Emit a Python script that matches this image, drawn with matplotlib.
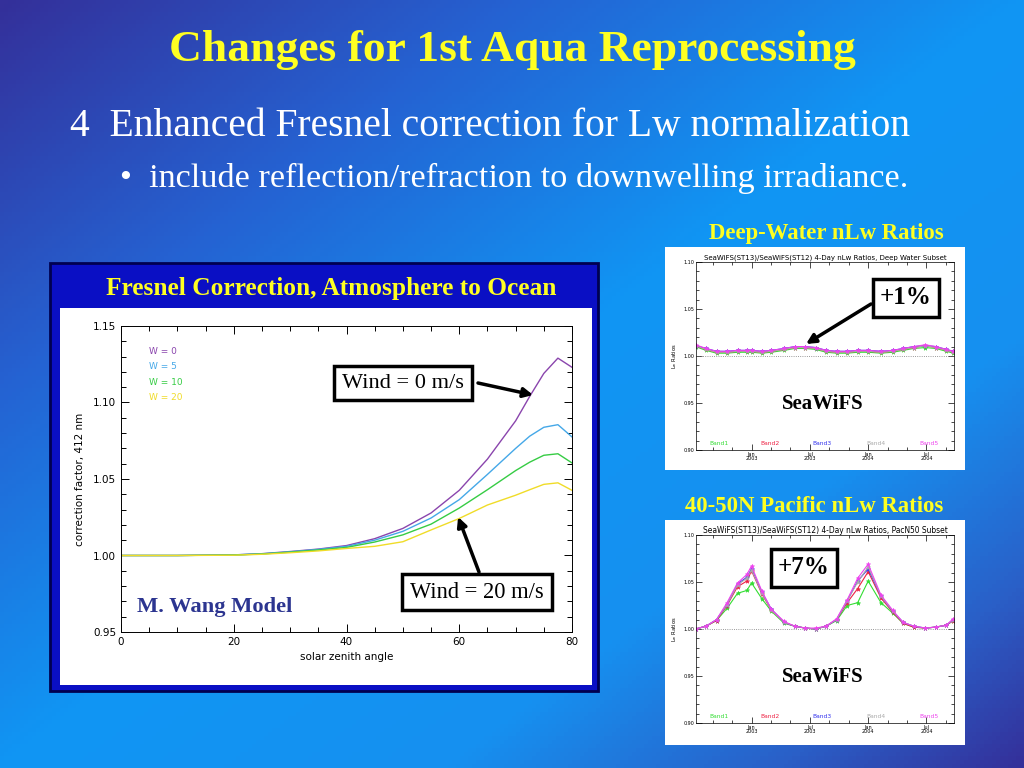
import matplotlib
matplotlib.use("Agg")
import matplotlib.pyplot as plt
import numpy as np
from matplotlib.colors import LinearSegmentedColormap
from matplotlib.patches import Rectangle
from matplotlib.ticker import MultipleLocator

# Fresnel correction factor (412 nm) vs solar zenith angle
zenith = [0, 10, 20, 25, 30, 35, 40, 45, 50, 55, 60, 65, 70, 72.5, 75, 77.5, 80]
w0 = [1.0000, 1.0000, 1.0004, 1.0012, 1.0026, 1.0042, 1.0065, 1.0110, 1.0177,
      1.0278, 1.0426, 1.0630, 1.0880, 1.1040, 1.1190, 1.1290, 1.1230]
w5 = [1.0000, 1.0000, 1.0004, 1.0011, 1.0024, 1.0040, 1.0060, 1.0100, 1.0158,
      1.0245, 1.0365, 1.0530, 1.0700, 1.0780, 1.0838, 1.0855, 1.0775]
w10 = [1.0000, 1.0000, 1.0003, 1.0010, 1.0022, 1.0036, 1.0053, 1.0088, 1.0135,
       1.0205, 1.0310, 1.0430, 1.0555, 1.0610, 1.0655, 1.0665, 1.0605]
w20 = [1.0000, 1.0000, 1.0002, 1.0008, 1.0018, 1.0030, 1.0046, 1.0060, 1.0090,
       1.0167, 1.0242, 1.0330, 1.0394, 1.0430, 1.0465, 1.0475, 1.0426]
wind_labels = ["W = 0", "W = 5", "W = 10", "W = 20"]
wind_colors = ["#8a45ad", "#45a8e8", "#36cc44", "#f0dc28"]

# SeaWiFS ST13/ST12 ratios (decimal year)
dates = [2002.52, 2002.61, 2002.70, 2002.79, 2002.88, 2002.96, 2003.00, 2003.09,
         2003.17, 2003.28, 2003.37, 2003.46, 2003.55, 2003.64, 2003.73, 2003.82,
         2003.91, 2004.00, 2004.11, 2004.21, 2004.30, 2004.39, 2004.49, 2004.58,
         2004.67, 2004.73]
band_names = ["Band1", "Band2", "Band3", "Band4", "Band5"]
band_colors = ["#33dd33", "#ee2244", "#3333ee", "#aaaaaa", "#ee44ee"]

deep_b1 = [1.010, 1.006, 1.003, 1.003, 1.004, 1.004, 1.004, 1.003, 1.004, 1.006, 1.008, 1.008, 1.007,
           1.004, 1.003, 1.003, 1.004, 1.004, 1.003, 1.004, 1.006, 1.008, 1.009, 1.008, 1.005, 1.003]
deep_b2 = [1.011, 1.007, 1.004, 1.004, 1.005, 1.005, 1.005, 1.004, 1.005, 1.007, 1.009, 1.009, 1.008,
           1.005, 1.004, 1.004, 1.005, 1.005, 1.004, 1.005, 1.007, 1.009, 1.011, 1.009, 1.006, 1.004]
deep_b3 = [1.011, 1.008, 1.005, 1.005, 1.006, 1.006, 1.006, 1.005, 1.006, 1.008, 1.010, 1.010, 1.009,
           1.006, 1.005, 1.005, 1.006, 1.006, 1.005, 1.006, 1.008, 1.010, 1.011, 1.010, 1.007, 1.005]
deep_b4 = [1.011, 1.007, 1.004, 1.004, 1.005, 1.005, 1.005, 1.004, 1.005, 1.007, 1.009, 1.009, 1.008,
           1.005, 1.004, 1.004, 1.005, 1.005, 1.004, 1.005, 1.007, 1.009, 1.011, 1.009, 1.006, 1.004]
deep_b5 = [1.012, 1.008, 1.005, 1.005, 1.006, 1.006, 1.006, 1.005, 1.006, 1.008, 1.010, 1.010, 1.009,
           1.006, 1.005, 1.005, 1.006, 1.006, 1.005, 1.006, 1.008, 1.010, 1.012, 1.010, 1.007, 1.005]

pac_b1 = [1.000, 1.003, 1.009, 1.022, 1.038, 1.041, 1.049, 1.032, 1.019, 1.006, 1.003, 1.001, 1.000,
          1.003, 1.009, 1.025, 1.028, 1.051, 1.028, 1.017, 1.006, 1.002, 1.001, 1.002, 1.004, 1.009]
pac_b2 = [1.000, 1.003, 1.009, 1.025, 1.045, 1.051, 1.062, 1.037, 1.020, 1.007, 1.003, 1.001, 1.000,
          1.003, 1.010, 1.028, 1.043, 1.061, 1.033, 1.018, 1.006, 1.002, 1.001, 1.002, 1.004, 1.009]
pac_b3 = [1.000, 1.003, 1.010, 1.026, 1.048, 1.055, 1.064, 1.039, 1.021, 1.007, 1.003, 1.001, 1.000,
          1.003, 1.010, 1.030, 1.051, 1.064, 1.035, 1.019, 1.007, 1.003, 1.001, 1.002, 1.004, 1.010]
pac_b4 = [1.000, 1.003, 1.010, 1.026, 1.047, 1.054, 1.063, 1.038, 1.020, 1.007, 1.003, 1.001, 1.000,
          1.003, 1.010, 1.030, 1.050, 1.066, 1.035, 1.019, 1.007, 1.003, 1.001, 1.002, 1.004, 1.010]
pac_b5 = [1.000, 1.003, 1.010, 1.028, 1.049, 1.058, 1.067, 1.040, 1.021, 1.008, 1.003, 1.001, 1.001,
          1.003, 1.011, 1.031, 1.054, 1.069, 1.036, 1.020, 1.007, 1.003, 1.001, 1.002, 1.004, 1.011]

date_ticks = [2003.0, 2003.5, 2004.0, 2004.5]
date_labels = ["Jan\n2003", "Jul\n2003", "Jan\n2004", "Jul\n2004"]

W, H = 1024, 768
fig = plt.figure(figsize=(W / 100, H / 100), dpi=100)
renderer = fig.canvas.get_renderer()
serif = "Liberation Serif"


def fx(px):
    return px / W


def fy(py):
    return 1 - py / H


def fit(t, width_px):
    # scale a text so that it spans the given width in pixels
    w = t.get_window_extent(renderer).width
    t.set_fontsize(t.get_fontsize() * width_px / w)
    return t


# slide background gradient
bg = fig.add_axes([0, 0, 1, 1], zorder=-10)
xx, yy = np.meshgrid(np.linspace(0, 1, 256), np.linspace(0, 1, 192))
cmap = LinearSegmentedColormap.from_list(
    "slide", [(0, "#34309a"), (0.25, "#2562d2"), (0.5, "#1096f4"),
              (0.72, "#1690f0"), (0.88, "#2a60c8"), (1, "#34309a")])
bg.imshow((xx + yy) / 2, cmap=cmap, aspect="auto", extent=[0, 1, 0, 1])
bg.axis("off")

# slide texts
fit(fig.text(0.5, fy(50), "Changes for 1st Aqua Reprocessing", ha="center", va="center",
             color="#ffff22", fontsize=30, fontweight="bold", family=serif), 685)
fit(fig.text(fx(70), fy(126), "4  Enhanced Fresnel correction for Lw normalization",
             ha="left", va="center", color="white", fontsize=24, family=serif), 842)
fit(fig.text(fx(120), fy(178), "\u2022  include reflection/refraction to downwelling irradiance.",
             ha="left", va="center", color="white", fontsize=20, family=serif), 790)

# main panel frame
fig.add_artist(Rectangle((fx(50), fy(691)), fx(548), (691 - 263) / H, transform=fig.transFigure,
                         facecolor="#0a0fc4", edgecolor="#000050", lw=2, zorder=-5))
fig.add_artist(Rectangle((fx(60), fy(685)), fx(532), (685 - 308) / H, transform=fig.transFigure,
                         facecolor="white", edgecolor="none", zorder=-4))
fit(fig.text(fx(331), fy(289), "Fresnel Correction, Atmosphere to Ocean", ha="center",
             va="center", color="#ffff22", fontsize=16, fontweight="bold", family=serif), 453)

ax = fig.add_axes([fx(121), fy(632), fx(572 - 121), (632 - 326) / H])
for vals, lab, col in zip([w0, w5, w10, w20], wind_labels, wind_colors):
    ax.plot(zenith, vals, color=col, lw=1.0)
for i, (lab, col) in enumerate(zip(wind_labels, wind_colors)):
    ax.text(5, 1.1334 - i * 0.0101, lab, color=col, fontsize=6.5, va="center")
ax.set_xlim(0, 80)
ax.set_ylim(0.95, 1.15)
ax.xaxis.set_major_locator(MultipleLocator(20))
ax.xaxis.set_minor_locator(MultipleLocator(5))
ax.yaxis.set_major_locator(MultipleLocator(0.05))
ax.yaxis.set_minor_locator(MultipleLocator(0.01))
ax.yaxis.set_major_formatter(plt.FormatStrFormatter("%.2f"))
ax.tick_params(which="both", direction="in", top=True, right=True, labelsize=7.5, width=0.7)
ax.tick_params(which="major", length=6)
ax.tick_params(which="minor", length=3.5)
ax.set_xlabel("solar zenith angle", fontsize=7.5, labelpad=4)
ax.set_ylabel("correction factor, 412 nm", fontsize=7.5, labelpad=6)
for s in ax.spines.values():
    s.set_linewidth(0.7)

box = dict(boxstyle="square,pad=0.35", facecolor="white", edgecolor="black", lw=2.5)
t0 = fig.text(fx(403), fy(383), "Wind = 0 m/s", ha="center", va="center", fontsize=15,
              family=serif, bbox=box, zorder=10)
fit(t0, 122)
t20 = fig.text(fx(477), fy(592), "Wind = 20 m/s", ha="center", va="center", fontsize=15,
               family=serif, bbox=box, zorder=10)
fit(t20, 134)
arrow = dict(arrowstyle="-|>", color="black", lw=2.5, mutation_scale=14, shrinkA=0, shrinkB=0)
ax.annotate("", xy=(73.1, 1.1049), xycoords="data", xytext=(fx(478), fy(383)),
            textcoords="figure fraction", arrowprops=arrow, zorder=9)
ax.annotate("", xy=(59.8, 1.0252), xycoords="data", xytext=(fx(479), fy(572)),
            textcoords="figure fraction", arrowprops=arrow, zorder=9)
fit(fig.text(fx(137), fy(607), "M. Wang Model", ha="left", va="center", color="#2c3590",
             fontsize=14, fontweight="bold", family=serif), 156)


def small_chart(top_px, panel_top, panel_bot, subtitle, series):
    fig.add_artist(Rectangle((fx(665), fy(panel_bot)), fx(300), (panel_bot - panel_top) / H,
                             transform=fig.transFigure, facecolor="white",
                             edgecolor="none", zorder=-4))
    sa = fig.add_axes([fx(696), fy(top_px + 188), fx(954 - 696), 188 / H])
    sa.axhline(1.0, ls=":", color="#777777", lw=0.6)
    for vals, col in zip(series, band_colors):
        sa.plot(dates, vals, color=col, lw=0.8, marker="*", ms=3.2, mew=0.4)
    sa.set_xlim(2002.524, 2004.736)
    sa.set_ylim(0.90, 1.10)
    sa.set_xticks(date_ticks)
    sa.set_xticklabels(date_labels, linespacing=0.8)
    sa.xaxis.set_minor_locator(MultipleLocator(1 / 6))
    sa.yaxis.set_major_locator(MultipleLocator(0.05))
    sa.yaxis.set_minor_locator(MultipleLocator(0.01))
    sa.yaxis.set_major_formatter(plt.FormatStrFormatter("%.2f"))
    sa.tick_params(which="both", direction="in", top=True, right=True, labelsize=3.5,
                   width=0.5, pad=1.5)
    sa.tick_params(which="major", length=4)
    sa.tick_params(which="minor", length=2)
    sa.set_ylabel(r"L$_w$ Ratios", fontsize=3.8, labelpad=3)
    for s in sa.spines.values():
        s.set_linewidth(0.5)
    st = sa.set_title(subtitle, fontsize=4.5, pad=1.5)
    fit(st, 245)
    for xpos, lab, col in zip([0.09, 0.288, 0.49, 0.697, 0.903], band_names, band_colors):
        sa.text(xpos, 0.035, lab, transform=sa.transAxes, color=col, fontsize=4.3,
                ha="center", va="center")
    sa.text(0.49, 0.245, "SeaWiFS", transform=sa.transAxes, color="black", fontsize=15,
            fontweight="bold", family=serif, ha="center", va="center")
    return sa


deep = small_chart(262, 247, 470,
                   "SeaWiFS(ST13)/SeaWiFS(ST12) 4-Day nLw Ratios, Deep Water Subset",
                   [deep_b1, deep_b2, deep_b3, deep_b4, deep_b5])
pac = small_chart(535, 520, 745,
                  "SeaWiFS(ST13)/SeaWiFS(ST12) 4-Day nLw Ratios, PacN50 Subset",
                  [pac_b1, pac_b2, pac_b3, pac_b4, pac_b5])

fit(fig.text(fx(826), fy(234), "Deep-Water nLw Ratios", ha="center", va="center",
             color="#ffff22", fontsize=12, fontweight="bold", family=serif), 233)
fit(fig.text(fx(814), fy(507), "40-50N Pacific nLw Ratios", ha="center", va="center",
             color="#ffff22", fontsize=12, fontweight="bold", family=serif), 258)

pbox = dict(boxstyle="square,pad=0.3", facecolor="white", edgecolor="black", lw=2.5)
fig.text(fx(906), fy(298), "+1%", ha="center", va="center", fontsize=18, fontweight="bold",
         family=serif, bbox=pbox, zorder=10)
fig.text(fx(804), fy(568), "+7%", ha="center", va="center", fontsize=18, fontweight="bold",
         family=serif, bbox=pbox, zorder=10)
deep.annotate("", xy=(fx(806), fy(344)), xycoords="figure fraction", xytext=(fx(871), fy(304)),
              textcoords="figure fraction", arrowprops=arrow, zorder=9)

fig.savefig("out.png", dpi=100)
